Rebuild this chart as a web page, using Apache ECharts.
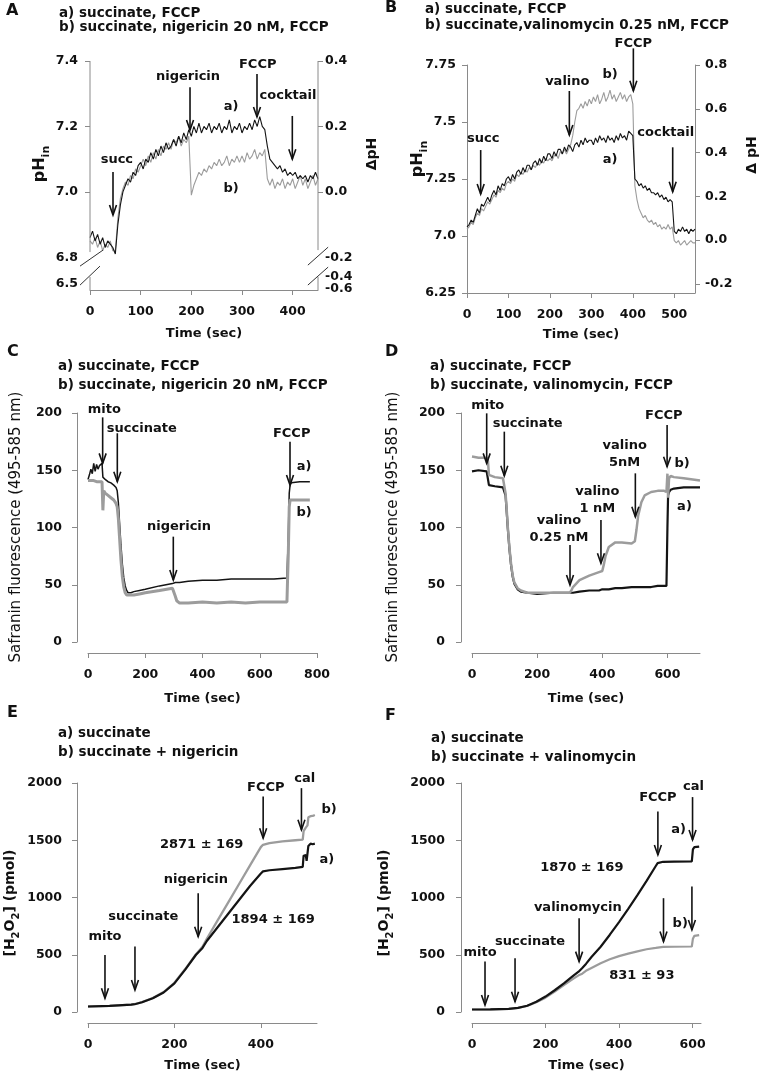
<!DOCTYPE html>
<html><head><meta charset="utf-8">
<script src="https://cdn.jsdelivr.net/npm/echarts@6/dist/echarts.min.js"></script>
<style>html,body{margin:0;padding:0;background:#fff}#c{width:761px;height:1074px}</style>
</head><body><div id="c"></div>
<script>
// ---------- Panel A : pHin, step 5 s ----------
const stepA = 5;
const aA = [6.86,6.88,6.85,6.87,6.84,6.86,6.83,6.85,6.84,6.83,
 6.81,6.90,6.96,7.00,7.02,7.04,7.03,7.06,7.05,7.08,
 7.09,7.07,7.10,7.09,7.12,7.10,7.13,7.11,7.14,7.12,
 7.15,7.13,7.14,7.16,7.14,7.17,7.15,7.18,7.16,7.19,
 7.17,7.20,7.18,7.21,7.18,7.20,7.19,7.21,7.18,7.20,
 7.19,7.21,7.18,7.20,7.19,7.22,7.18,7.20,7.19,7.21,
 7.18,7.20,7.19,7.21,7.19,7.22,7.20,7.23,7.20,7.19,
 7.14,7.10,7.09,7.08,7.07,7.08,7.06,7.07,7.05,7.06,
 7.05,7.06,7.04,7.05,7.04,7.05,7.03,7.05,7.04,7.06,
 7.04];
const bA = [6.85,6.84,6.86,6.83,6.85,6.82,6.84,6.83,6.85,6.82,
 6.82,6.92,6.98,7.01,7.03,7.02,7.05,7.04,7.07,7.06,
 7.08,7.10,7.08,7.11,7.09,7.12,7.10,7.13,7.11,7.14,
 7.13,7.15,7.13,7.16,7.15,7.17,7.14,7.16,7.15,7.17,
 6.99,7.02,7.04,7.06,7.05,7.07,7.06,7.08,7.07,7.09,
 7.08,7.10,7.08,7.09,7.11,7.08,7.10,7.09,7.11,7.09,
 7.11,7.09,7.12,7.10,7.11,7.13,7.10,7.12,7.11,7.13,
 7.04,7.02,7.04,7.01,7.03,7.02,7.04,7.01,7.03,7.02,
 7.04,7.01,7.03,7.05,7.02,7.04,7.01,7.03,7.05,7.02,
 7.04];
const ticksA_L = [6.72, 6.8, 7.0, 7.2, 7.4];
const labelsA_L = ['6.5','6.8','7.0','7.2','7.4'];
const ticksA_R = [-0.297, -0.2, 0, 0.2, 0.4];
const labelsA_R = ['-0.6','-0.2','0.0','0.2','0.4'];
const extraA_R = [[-0.258, '-0.4']];   // break-region label drawn next to the right axis

// ---------- Panel B : pHin, step 5 s ----------
const stepB = 5;
const aB = [7.04,7.05,7.07,7.06,7.09,7.12,7.10,7.14,7.13,7.15,
 7.17,7.15,7.18,7.20,7.18,7.22,7.20,7.23,7.22,7.25,
 7.26,7.24,7.27,7.25,7.28,7.29,7.27,7.30,7.28,7.31,
 7.31,7.29,7.32,7.33,7.31,7.34,7.32,7.35,7.33,7.36,
 7.36,7.34,7.37,7.35,7.38,7.38,7.36,7.39,7.37,7.40,
 7.39,7.37,7.40,7.41,7.39,7.42,7.40,7.43,7.41,7.42,
 7.42,7.40,7.43,7.41,7.44,7.42,7.43,7.41,7.44,7.42,
 7.43,7.41,7.44,7.42,7.45,7.43,7.44,7.42,7.46,7.45,
 7.44,7.25,7.24,7.22,7.23,7.21,7.22,7.20,7.21,7.19,
 7.19,7.18,7.19,7.17,7.18,7.16,7.17,7.15,7.16,7.15,
 7.02,7.01,7.03,7.02,7.04,7.02,7.03,7.01,7.03,7.02,
 7.03];
const bB = [7.03,7.04,7.06,7.05,7.08,7.10,7.09,7.12,7.11,7.13,
 7.15,7.14,7.16,7.18,7.17,7.20,7.19,7.21,7.20,7.23,
 7.24,7.23,7.25,7.24,7.27,7.26,7.28,7.27,7.29,7.28,
 7.30,7.29,7.31,7.30,7.32,7.31,7.33,7.32,7.34,7.33,
 7.34,7.33,7.35,7.36,7.34,7.37,7.36,7.38,7.36,7.38,
 7.40,7.44,7.50,7.55,7.56,7.58,7.56,7.59,7.57,7.60,
 7.58,7.61,7.59,7.62,7.58,7.60,7.63,7.59,7.61,7.64,
 7.60,7.62,7.59,7.61,7.63,7.60,7.62,7.59,7.61,7.62,
 7.58,7.22,7.16,7.12,7.10,7.08,7.09,7.07,7.06,7.07,
 7.05,7.06,7.04,7.05,7.03,7.04,7.03,7.05,7.03,7.04,
 6.98,6.97,6.98,6.96,6.97,6.98,6.96,6.97,6.98,6.97,
 6.97];
const ticksB_L = [6.75, 7.0, 7.25, 7.5, 7.75];
const labelsB_L = ['6.25','7.0','7.25','7.5','7.75'];
const ticksB_R = [-0.2, 0, 0.2, 0.4, 0.6, 0.8];
const labelsB_R = ['-0.2','0.0','0.2','0.4','0.6','0.8'];

// ---------- Panel C : safranin ----------
const tC = [0,5,10,15,20,25,30,35,40,45,49,52,55,60,70,80,90,98,102,106,110,115,120,125,130,135,140,150,160,180,200,250,295,300,305,310,320,350,400,450,500,550,600,650,695,700,703,706,710,740,775];
const aC = [142,146,151,147,156,149,155,151,154,153,156,144,143,142,140,139,137,135,132,122,105,85,68,56,49,45,43,43,44,45,46,49,51,51,52,52,52,53,54,54,55,55,55,55,56,95,130,137,139,140,140];
const bC = [141,140,141,140,141,140,140,141,140,140,140,115,132,130,128,126,124,121,118,108,92,72,57,48,43,41,40,41,41,42,43,45,47,46,40,36,34,34,35,34,35,34,35,35,35,80,118,124,125,124,124];

// ---------- Panel D : safranin ----------
const tD = [0,20,45,49,52,55,70,95,100,103,106,110,115,120,125,130,140,150,170,200,250,300,305,310,330,360,390,400,405,410,420,440,460,490,500,505,510,520,530,550,570,590,597,600,602,605,610,620,650,700];
const aD = [149,150,149,150,137,136,136,135,135,128,116,99,81,67,57,51,46,44,43,42,43,43,43,43,44,45,45,46,46,46,46,47,47,48,48,48,48,48,48,48,49,49,49,100,128,131,133,134,135,135];
const bD = [162,161,161,158,146,145,144,143,142,130,118,100,82,68,58,52,47,45,43,43,43,43,45,48,54,58,61,62,68,75,83,87,87,86,88,98,110,122,128,131,132,132,131,147,126,143,145,144,143,141];

// ---------- Panel E : H2O2 ----------
const tE = [0,50,100,110,125,150,175,200,225,250,265,275,300,325,350,375,400,405,420,450,480,497,499,504,506,508,510,515,520,525];
const aE = [48,54,65,70,85,120,170,250,370,500,560,620,740,860,980,1100,1210,1228,1238,1248,1258,1268,1365,1370,1320,1330,1450,1470,1465,1470];
const bE = [48,54,65,70,86,122,174,255,375,505,570,640,800,960,1120,1280,1440,1460,1475,1490,1500,1505,1580,1610,1620,1630,1700,1710,1712,1720];

// ---------- Panel F : H2O2 ----------
const tF = [0,50,100,125,150,175,200,225,250,275,290,300,310,325,350,375,400,425,450,475,500,505,510,520,550,598,601,605,618];
const aF = [22,23,28,36,55,90,135,190,250,315,352,385,420,480,570,675,785,900,1020,1145,1275,1300,1310,1312,1313,1315,1420,1440,1445];
const bF = [22,23,28,35,52,85,125,178,235,290,320,335,360,385,425,460,488,510,530,548,560,563,565,568,570,572,640,665,672];

// ---------- build ----------
const FF = 'DejaVu Sans';
const BLACK = '#141414', GRAY = '#9c9c9c', AX = '#8a8a8a', TXT = '#111';
const chart = echarts.init(document.getElementById('c'), null, {renderer: 'canvas'});

function stepPts(v, s){ return v.map((y,i)=>[i*s, y]); }
function zip(t, v){ return t.map((x,i)=>[x, v[i]]); }
function pick(ticks, labels){ return function(v){ let bi=0, bd=1e9; ticks.forEach((t,i)=>{const d=Math.abs(t-v); if(d<bd){bd=d;bi=i;}}); return labels[bi]; }; }
const plain = v => String(Math.round(v));

const lblStyle = {fontFamily: FF, fontWeight: 'bold', fontSize: 12.5, color: TXT, hideOverlap:false};

function xAx(gi, max, interval, offset, nameGap, showMax){
  return {type:'value', gridIndex:gi, min:0, max:max, interval:interval, offset:offset,
    name:'Time (sec)', nameLocation:'middle', nameGap:nameGap,
    nameTextStyle:{fontFamily:FF, fontWeight:'bold', fontSize:13, color:TXT},
    axisLine:{show:true, onZero:false, lineStyle:{color:AX, width:1}},
    axisTick:{show:true, length:5, lineStyle:{color:AX, width:1}},
    axisLabel:Object.assign({margin:15, showMaxLabel:showMax, formatter:plain}, lblStyle), splitLine:{show:false}};
}
function yAx(gi, o){
  return Object.assign({type:'value', gridIndex:gi, splitLine:{show:false},
    axisLine:{show:true, onZero:false, lineStyle:{color:AX, width:1}},
    axisTick:{show:true, length:5, lineStyle:{color:AX, width:1}},
    axisLabel:Object.assign({margin:12}, lblStyle)}, o);
}

const option = {
  animation:false,
  backgroundColor:'#fff',
  grid:[
    {left:90, top:61, width:228, height:229},
    {left:467, top:65, width:228, height:228},
    {left:88, top:413, width:229, height:229},
    {left:472, top:413, width:228, height:229},
    {left:88, top:783, width:229, height:229},
    {left:472, top:783, width:229, height:229}
  ],
  xAxis:[
    xAx(0, 450, 100, 0, 37, false),
    xAx(1, 550, 100, 0, 35, false),
    xAx(2, 800, 200, 11, 39, true),
    xAx(3, 700, 200, 11, 39, false),
    xAx(4, 530, 200, 11, 36, false),
    xAx(5, 623, 200, 11, 36, false)
  ],
  yAxis:[
    yAx(0, {min:6.7, max:7.4, axisLine:{show:false},
      axisTick:{show:true, length:5, customValues:[7.0,7.2,7.4], lineStyle:{color:AX}},
      axisLabel:Object.assign({margin:12, showMinLabel:true, customValues:ticksA_L, formatter:pick(ticksA_L, labelsA_L)}, lblStyle)}),
    yAx(0, {position:'right', min:-0.3, max:0.4, axisLine:{show:false},
      axisTick:{show:true, length:5, customValues:[0,0.2,0.4], lineStyle:{color:AX}},
      axisLabel:Object.assign({}, lblStyle, {margin:7, showMinLabel:true, customValues:ticksA_R, formatter:pick(ticksA_R, labelsA_R)})}),
    yAx(1, {min:6.75, max:7.75,
      axisTick:{show:true, length:5, customValues:ticksB_L, lineStyle:{color:AX}},
      axisLabel:Object.assign({margin:11, customValues:ticksB_L, formatter:pick(ticksB_L, labelsB_L)}, lblStyle)}),
    yAx(1, {position:'right', min:-0.241, max:0.8,
      axisTick:{show:true, length:5, customValues:ticksB_R, lineStyle:{color:AX}},
      axisLabel:Object.assign({margin:10, customValues:ticksB_R, formatter:pick(ticksB_R, labelsB_R)}, lblStyle)}),
    yAx(2, {min:0, max:200, interval:50, offset:11, axisLabel:Object.assign({margin:15, formatter:plain}, lblStyle)}),
    yAx(3, {min:0, max:200, interval:50, offset:11, axisLabel:Object.assign({margin:16, formatter:plain}, lblStyle)}),
    yAx(4, {min:0, max:2000, interval:500, offset:11, axisLabel:Object.assign({margin:15, formatter:plain}, lblStyle)}),
    yAx(5, {min:0, max:2000, interval:500, offset:11, axisLabel:Object.assign({margin:16, formatter:plain}, lblStyle)})
  ],
  series:[]
};
function ln(name, data, xi, yi, color, w){
  return {type:'line', name:name, data:data, xAxisIndex:xi, yAxisIndex:yi, showSymbol:false, symbol:'none',
    lineStyle:{color:color, width:w}, itemStyle:{color:color}, clip:true, silent:true};
}
option.series.push(
  ln('A b', stepPts(bA, stepA), 0, 0, GRAY, 1.1),
  ln('A a', stepPts(aA, stepA), 0, 0, BLACK, 1.1),
  ln('B b', stepPts(bB, stepB), 1, 2, GRAY, 1.1),
  ln('B a', stepPts(aB, stepB), 1, 2, BLACK, 1.1),
  ln('C a', zip(tC, aC), 2, 4, BLACK, 1.5),
  ln('C b', zip(tC, bC), 2, 4, GRAY, 3),
  ln('D a', zip(tD, aD), 3, 5, BLACK, 2.2),
  ln('D b', zip(tD, bD), 3, 5, GRAY, 2.5),
  ln('E b', zip(tE, bE), 4, 6, GRAY, 2.3),
  ln('E a', zip(tE, aE), 4, 6, BLACK, 2.2),
  ln('F b', zip(tF, bF), 5, 7, GRAY, 2.2),
  ln('F a', zip(tF, aF), 5, 7, BLACK, 2.2)
);
chart.setOption(option);

// ---------- annotations (data coordinates) ----------
const notes = [
  {g:0, texts:[['succ',53,7.097],['nigericin',193.4,7.351],['FCCP',331,7.388],['cocktail',390.8,7.293],['a)',278.3,7.262],['b)',278.3,7.011]],
   arrows:[[45.4,7.061,6.929],[197.4,7.320,7.189],[329.6,7.360,7.229],[399.3,7.232,7.100]]},
  {g:1, texts:[['succ',39.3,7.428],['valino',242,7.677],['b)',345,7.706],['FCCP',401.3,7.845],['cocktail',479.4,7.455],['a)',345,7.336]],
   arrows:[[33,7.377,7.184],[246.9,7.636,7.443],[401.3,7.823,7.637],[496.2,7.389,7.194]]},
  {g:2, texts:[['mito',57,203.2],['succinate',188,186.6],['nigericin',317.9,100.7],['FCCP',711.6,181.7],['a)',754.6,153.1],['b)',754.6,112.9]],
   arrows:[[51.2,196.2,156],[102.4,182.3,140],[298,92,54.1],[705.7,175,137.1]]},
  {g:3, texts:[['mito',48.2,206.1],['succinate',171,190.4],['valino\n0.25 nM',267.1,98.3],['valino\n1 nM',384.8,124],['valino\n5nM',468.7,164.2],['FCCP',588.7,197.6],['b)',645.2,156],['a)',652.3,118.2]],
   arrows:[[45.1,199.7,156],[99.2,183.7,145.2],[300.9,84.7,49.8],[395.9,106.6,68.7],[501.5,147.3,109.4],[599,189.5,153.1]]},
  {g:4, texts:[['mito',39.3,658],['succinate',127.9,833],['nigericin',249.7,1154],['FCCP',411.6,1961],['cal',501.7,2034],['b)',558,1766],['a)',553,1329],['2871 \u00b1 169',262.9,1460],['1894 \u00b1 169',428.5,810]],
   arrows:[[39.3,498,120],[108.7,571,192],[255,1037,658],[405.4,1882,1518],[494,1955,1591]]},
  {g:5, texts:[['mito',21.8,522],['succinate',158,615],['valinomycin',287.8,915],['FCCP',505.7,1868],['cal',602.7,1969],['a)',561.9,1591],['b)',566.4,775],['1870 \u00b1 169',298.7,1265],['831 \u00b1 93',462.1,315]],
   arrows:[[35.4,440,61],[117.1,469,90],[291.4,819,440],[505.7,1751,1372],[600,1877,1503],[521,994,615],[598.3,1095,717]]}
];
// axis break decorations for panel A (data coordinates)
const breakAxisA = [[0,7.4,0,6.816],[0,6.74,0,6.7],[450,7.4,450,6.822],[450,6.74,450,6.7]];
const breakSlashA = [[-19.7,6.773,25.7,6.822],[-19.7,6.715,19.7,6.773],[430,6.776,470,6.831],[430,6.715,470,6.770]];

const titles = [
  ['A',6,11,16],['a) succinate, FCCP',59,13,13.5],['b) succinate, nigericin 20 nM, FCCP',59,27,13.5],
  ['B',385,8,16],['a) succinate, FCCP',425,9,13.5],['b) succinate,valinomycin 0.25 nM, FCCP',425,25,13.5],
  ['C',7,352,16],['a) succinate, FCCP',58,366,13.5],['b) succinate, nigericin 20 nM, FCCP',58,385,13.5],
  ['D',385,352,16],['a) succinate, FCCP',430,366,13.5],['b) succinate, valinomycin, FCCP',430,385,13.5],
  ['E',7,713,16],['a) succinate',58,733,13.5],['b) succinate + nigericin',58,752,13.5],
  ['F',385,716,16],['a) succinate',431,738,13.5],['b) succinate + valinomycin',431,757,13.5]
];

function P(g, x, y){ return chart.convertToPixel({gridIndex:g}, [x, y]); }
const G = [];
function txt(s, x, y, size, align, weight){
  G.push({type:'text', x:x, y:y, silent:true, z:100, style:{text:s, fill:TXT, fontFamily:FF, fontWeight:weight||'bold', fontSize:size,
    align:align||'center', textAlign:align||'center', verticalAlign:'middle', textVerticalAlign:'middle', lineHeight:17}});
}
function seg(a, b, color, w){
  G.push({type:'line', silent:true, z:100, shape:{x1:a[0], y1:a[1], x2:b[0], y2:b[1]}, style:{stroke:color, lineWidth:w}});
}
notes.forEach(n=>{
  n.texts.forEach(t=>{ const p=P(n.g, t[1], t[2]); txt(t[0], p[0], p[1], 13); });
  n.arrows.forEach(a=>{
    const p1=P(n.g, a[0], a[1]), p2=P(n.g, a[0], a[2]);
    seg(p1, p2, TXT, 1.6);
    G.push({type:'polyline', silent:true, z:100, shape:{points:[[p2[0]-3.5,p2[1]-10],[p2[0],p2[1]],[p2[0]+3.5,p2[1]-10]]}, style:{stroke:TXT, lineWidth:1.6, fill:null}});
  });
});
breakAxisA.forEach(s=>seg(P(0,s[0],s[1]), P(0,s[2],s[3]), AX, 1));
breakSlashA.forEach(s=>seg(P(0,s[0],s[1]), P(0,s[2],s[3]), '#333', 1));
// extra right-axis label in the break region of panel A
extraA_R.forEach(e=>{
  const py = chart.convertToPixel({yAxisIndex:1}, e[0]);
  const px = chart.convertToPixel({xAxisIndex:0}, 450) + 7;
  txt(e[1], px, py, 12.5, 'left');
});
titles.forEach(t=>txt(t[0], t[1], t[2], t[3], 'left'));

// rotated axis names
function rot(rich, text, x, y){
  G.push({type:'text', x:x, y:y, rotation:Math.PI/2, silent:true, z:100,
    style:{text:text, rich:rich, fill:TXT, align:'center', textAlign:'center', verticalAlign:'middle', textVerticalAlign:'middle', fontFamily:FF}});
}
const subRich = (big, small)=>({
  a:{fontFamily:FF, fontWeight:'bold', fontSize:big, color:TXT, verticalAlign:'bottom', padding:[0,0,4,0]},
  s:{fontFamily:FF, fontWeight:'bold', fontSize:small, color:TXT, verticalAlign:'bottom'},
  r:{fontFamily:FF, fontWeight:'normal', fontSize:15, color:TXT},
  d:{fontFamily:FF, fontWeight:'bold', fontSize:14, color:TXT}
});
rot(subRich(16,11), '{a|pH}{s|in}', 42, 164);
rot(subRich(16,11), '{a|pH}{s|in}', 420, 159);
rot(subRich(14,10), '{d|\u0394pH}', 372, 154);
rot(subRich(14,10), '{d|\u0394 pH}', 752, 155);
rot(subRich(14,10), '{r|Safranin fluorescence (495-585 nm)}', 16, 527);
rot(subRich(14,10), '{r|Safranin fluorescence (495-585 nm)}', 393, 527);
rot(subRich(14,10), '{a|[H}{s|2}{a|O}{s|2}{a|] (pmol)}', 12, 903);
rot(subRich(14,10), '{a|[H}{s|2}{a|O}{s|2}{a|] (pmol)}', 386, 903);

chart.setOption({graphic:{elements:G}});
</script></body></html>
